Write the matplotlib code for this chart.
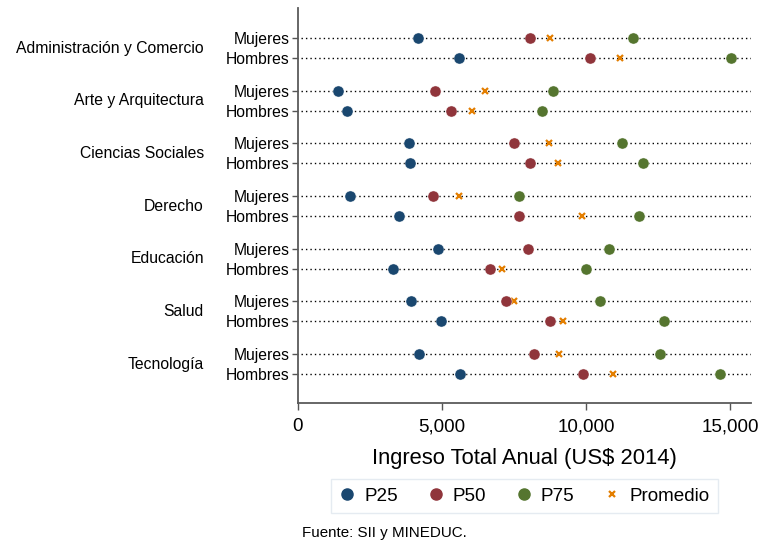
import numpy as np
import matplotlib
matplotlib.use("Agg")
import matplotlib.pyplot as plt
from matplotlib.lines import Line2D

plt.rcParams['font.family'] = ['Liberation Sans', 'DejaVu Sans']

# data (US$ 2014)
areas = ["Administración y Comercio", "Arte y Arquitectura", "Ciencias Sociales",
         "Derecho", "Educación", "Salud", "Tecnología"]
sexes = ["Mujeres", "Hombres"]

# rows: area order, Mujeres then Hombres
p25 = [4180, 5580, 1380, 1710, 3840, 3890, 1790, 3510,
       4870, 3310, 3920, 4980, 4210, 5640]
p50 = [8060, 10140, 4750, 5310, 7500, 8060, 4700, 7670,
       8000, 6660, 7230, 8760, 8180, 9880]
p75 = [11640, 15030, 8870, 8480, 11240, 11970, 7670, 11850,
       10810, 10010, 10490, 12700, 12560, 14640]
promedio = [8740, 11190, 6490, 6050, 8730, 9040, 5590, 9870,
            8000, 7100, 7490, 9210, 9060, 10950]

c_p25 = '#1a476f'
c_p50 = '#90353b'
c_p75 = '#55752f'
c_mean = '#e37e00'

# y positions: groups one unit apart, Hombres a bit below Mujeres
gap = 0.38
ypos = []
ylabels = []
for i in range(len(areas)):
    for j, s in enumerate(sexes):
        ypos.append(i + j * gap)
        ylabels.append(s)
ypos = np.array(ypos)

fig = plt.figure(figsize=(7.65, 5.47), dpi=100)
ax = fig.add_axes([0.3895, 0.2633, 0.5922, 0.7221])

for y in ypos:
    ax.axhline(y, xmin=0.007, xmax=1.0, color='black', lw=1.0,
               linestyle=(0, (1, 2.2)), zorder=1)

# mean markers sit under the dots (hidden where they coincide)
ax.plot(promedio, ypos, 'x', color=c_mean, ms=5, mew=1.6, zorder=2)
ax.plot(p25, ypos, 'o', color=c_p25, ms=8, mec='white', mew=0.3, zorder=3)
ax.plot(p50, ypos, 'o', color=c_p50, ms=8, mec='white', mew=0.3, zorder=3)
ax.plot(p75, ypos, 'o', color=c_p75, ms=8, mec='white', mew=0.3, zorder=3)

ax.set_xlim(0, 15730)
ax.set_ylim(len(areas) - 1 + gap + 0.55, -0.57)
ax.set_xticks([0, 5000, 10000, 15000])
ax.set_xticklabels(['0', '5,000', '10,000', '15,000'], fontsize=13.5)
ax.set_yticks(ypos)
ax.set_yticklabels(ylabels, fontsize=11.3)
ax.tick_params(axis='x', length=5, width=1, color='#555555', pad=6)
ax.tick_params(axis='y', length=4, width=1, color='#555555', pad=2)

for side in ['top', 'right']:
    ax.spines[side].set_visible(False)
for side in ['left', 'bottom']:
    ax.spines[side].set_color('#5a5a5a')
    ax.spines[side].set_linewidth(1.3)

# area names to the left of the sex labels
tr = ax.get_yaxis_transform()
for i, a in enumerate(areas):
    ax.text(-0.2075, i + gap / 2, a, transform=tr, ha='right', va='center',
            fontsize=11.3)

ax.set_xlabel('Ingreso Total Anual (US$ 2014)', fontsize=15.8, labelpad=9)

handles = [
    Line2D([], [], marker='o', ls='none', color=c_p25, ms=8),
    Line2D([], [], marker='o', ls='none', color=c_p50, ms=8),
    Line2D([], [], marker='o', ls='none', color=c_p75, ms=8),
    Line2D([], [], marker='x', ls='none', color=c_mean, ms=5, mew=1.6),
]
leg = fig.legend(handles, ['P25', 'P50', 'P75', 'Promedio'], ncol=4,
                 loc='center', bbox_to_anchor=(524.5 / 765, 1 - 496 / 547),
                 fontsize=13.6, frameon=True, fancybox=False,
                 handlelength=0.8, handletextpad=0.5, columnspacing=1.6,
                 borderpad=0.45)
leg.get_frame().set_edgecolor('#dfe7ee')
leg.get_frame().set_linewidth(1.0)

fig.text(302 / 765, 1 - 533 / 547, 'Fuente: SII y MINEDUC.', fontsize=10.9,
         ha='left', va='center')

fig.savefig('out.png', dpi=100, facecolor='white')
